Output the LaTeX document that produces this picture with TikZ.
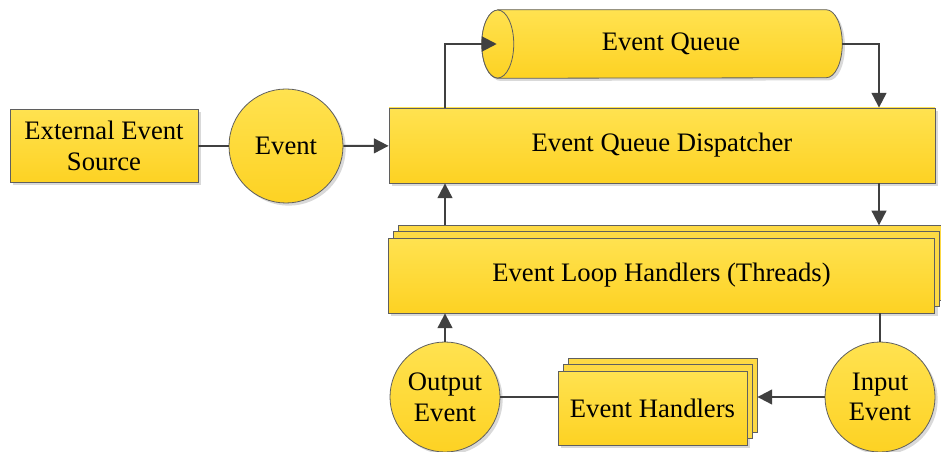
\documentclass[tikz,border=0pt]{standalone}
\usepackage{fontspec}
\setmainfont{Liberation Serif}
\usepackage{tikz}
\usetikzlibrary{arrows.meta,calc,positioning,shapes.geometric,shadows}
\definecolor{ytop}{RGB}{255,226,80}
\definecolor{ybot}{RGB}{253,210,35}
\definecolor{edgegray}{RGB}{95,95,95}
\definecolor{linegray}{RGB}{64,64,64}
\begin{document}
\begin{tikzpicture}[x=0.75pt,y=-0.75pt,
  every node/.style={font=\fontsize{20pt}{23pt}\selectfont,align=center,text=black},
  shade/.style={top color=ytop,bottom color=ybot,draw=edgegray,line width=0.6pt,
    drop shadow={shadow xshift=2pt,shadow yshift=-2pt,fill=black!25,opacity=.6}},
  box/.style={shade,rectangle,inner sep=0pt},
  stack/.style={box,double copy shadow={shadow xshift=3.75pt,shadow yshift=4.6pt,
    fill=ybot!85!white,draw=edgegray,line width=0.6pt}},
  evt/.style={shade,circle,inner sep=0pt},
  line/.style={draw=linegray,line width=1.5pt},
  arr/.style={line,-{Triangle[length=11pt,width=11pt]}}]
\useasboundingbox (0,0) rectangle (941,452);
\coordinate (lx) at (445,0);
\coordinate (rx) at (879,0);
\node[box,minimum width=141pt,minimum height=54.75pt] (src) at (104,146) {External Event\\Source};
\node[evt,minimum size=85.5pt] (ev) at (286,146) {Event};
\node[box,minimum width=409.5pt,minimum height=56.25pt] (disp) at (662,145.5) {Event Queue Dispatcher};
\node[minimum width=270pt,minimum height=51pt,inner sep=0pt] (queue) at (662,44) {};
\path[shade] ($(queue.north west)+(16,0)$) -- ($(queue.north east)+(-16,0)$)
  arc[start angle=-90,end angle=90,x radius=16,y radius=34]
  -- ($(queue.south west)+(16,0)$)
  arc[start angle=90,end angle=270,x radius=16,y radius=34] -- cycle;
\path[top color=ytop,bottom color=ybot,draw=edgegray,line width=0.6pt] ($(queue.west)+(16,0)$) ellipse[x radius=16,y radius=34];
\node at ($(queue.center)+(9,0)$) {Event Queue};
\node[stack,minimum width=410pt,minimum height=56.25pt] (loop) at (661.5,275.5) {Event Loop Handlers (Threads)};
\node[evt,minimum size=82.5pt] (outev) at (445,397) {Output\\Event};
\node[evt,minimum size=82.5pt] (inev) at (880,397) {Input\\Event};
\node[stack,minimum width=141.75pt,minimum height=55.5pt] (hand) at (652.5,408) {Event Handlers};
\path[line] (src) -- (ev);
\path[arr] (ev) -- (disp);
\path[arr] (disp.north -| lx) |- ([xshift=11.25pt]queue.west);
\path[arr] (queue.east) -| (disp.north -| rx);
\path[arr] (disp.south -| rx) -- ([yshift=9.2pt]loop.north -| rx);
\path[arr] ([yshift=9.2pt]loop.north -| lx) -- (disp.south -| lx);
\path[line] (inev.north) -- (inev.north |- loop.south);
\path[arr] (outev.north) -- (outev.north |- loop.south);
\path[line] (outev) -- (outev -| hand.west);
\path[arr] (inev) -- ($(inev -| hand.east)+(7.5pt,0)$);
\end{tikzpicture}
\end{document}
